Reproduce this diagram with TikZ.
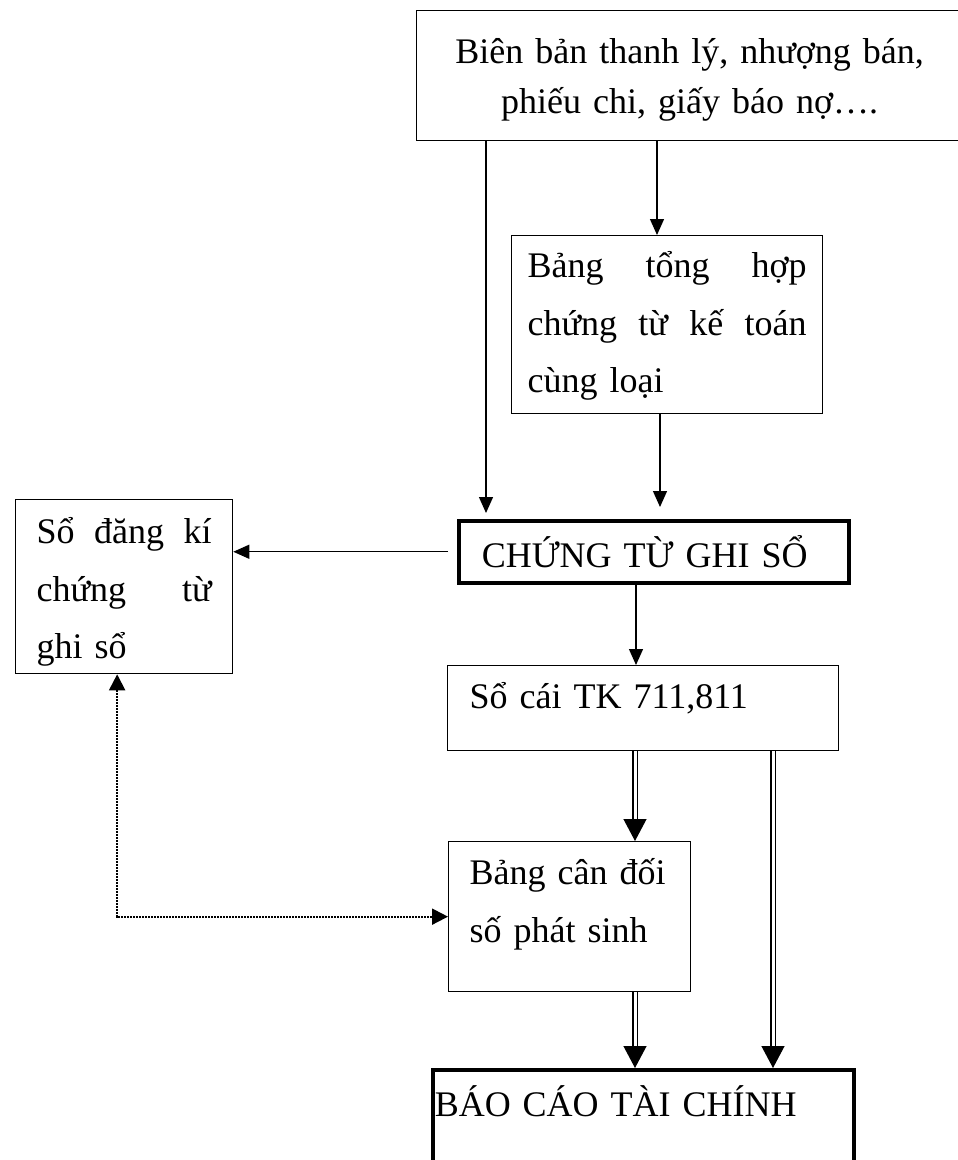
\documentclass[tikz,border=0pt]{standalone}
\usepackage{fontspec}
\setmainfont{Liberation Serif}
\usetikzlibrary{arrows.meta}

\begin{document}
\begin{tikzpicture}[x=1pt, y=-1pt,
    box/.style={draw=black, line width=1.3pt, anchor=north west, inner ysep=0pt,
        font=\fontsize{36pt}{57.5pt}\selectfont},
    thickbox/.style={box, line width=3.5pt},
    arr/.style={line width=1.3pt, -{Triangle[length=16pt,width=14pt]}},
    dblarr/.style={line width=1.2pt, double, double distance=3pt, -{Triangle[length=22pt,width=23pt]}},
    dotarr/.style={line width=2pt, densely dotted,
        {Triangle[length=16pt,width=16pt]}-{Triangle[length=16pt,width=16pt]}}]
        \useasboundingbox (0,0) rectangle (958,1160);
        \clip (0,0) rectangle (958,1160);
        \node[box, align=center, inner xsep=0pt, text width=546pt, text height=53pt, text depth=77pt,
            font=\fontsize{36pt}{50pt}\selectfont] (bienban) at (416,10)
            {Biên bản thanh lý, nhượng bán,\\ phiếu chi, giấy báo nợ….};
        \node[box, align=left, inner xsep=16pt, text width=279pt, text height=42pt, text depth=136pt] (banghop) at (511,235)
            {Bảng\hfill tổng\hfill hợp\\ chứng\hfill từ\hfill kế\hfill toán\\ cùng loại};
        \node[thickbox, align=left, inner xsep=23pt, text width=344pt, text height=47pt, text depth=15pt] (ctgs) at (457,519)
            {CHỨNG TỪ GHI SỔ};
        \node[box, align=left, inner xsep=21pt, text width=175pt, text height=44pt, text depth=130pt] (sodk) at (15,499)
            {Sổ\hfill đăng\hfill kí\\ chứng\hfill từ\\ ghi sổ};
        \node[box, align=left, inner xsep=22pt, text width=347pt, text height=43pt, text depth=42pt] (socai) at (447,665)
            {Sổ cái TK 711,811};
        \node[box, align=left, inner xsep=21pt, text width=200pt, text height=43pt, text depth=107pt] (bcd) at (448,841)
            {Bảng cân đối\\ số phát sinh};
        \node[thickbox, align=left, inner xsep=2pt, text width=417pt, text height=47pt, text depth=80pt] (bctc) at (431,1068)
            {BÁO CÁO TÀI CHÍNH};
        % luong chung tu
        \draw[arr] ([xshift=241pt]bienban.south west) -- ([xshift=146pt]banghop.north west);
        \draw[arr, shorten >=6pt] ([xshift=70pt]bienban.south west) -- ([xshift=29pt]ctgs.north west);
        \draw[arr, shorten >=12pt] ([xshift=149pt]banghop.south west) -- ([xshift=203pt]ctgs.north west);
        \draw[arr, shorten <=9pt] (ctgs.west) -- (sodk.east |- ctgs.west);
        \draw[arr] ([xshift=179pt]ctgs.south west) -- ([xshift=189pt]socai.north west);
        % doi chieu
        \draw[dotarr] ([xshift=-7pt]sodk.south) |- (bcd.west);
        % lap bao cao
        \draw[dblarr] ([xshift=188pt]socai.south west) -- ([xshift=187pt]bcd.north west);
        \draw[dblarr] ([xshift=326pt]socai.south west) -- ([xshift=342pt]bctc.north west);
        \draw[dblarr] ([xshift=187pt]bcd.south west) -- ([xshift=204pt]bctc.north west);
    \end{tikzpicture}
\end{document}
